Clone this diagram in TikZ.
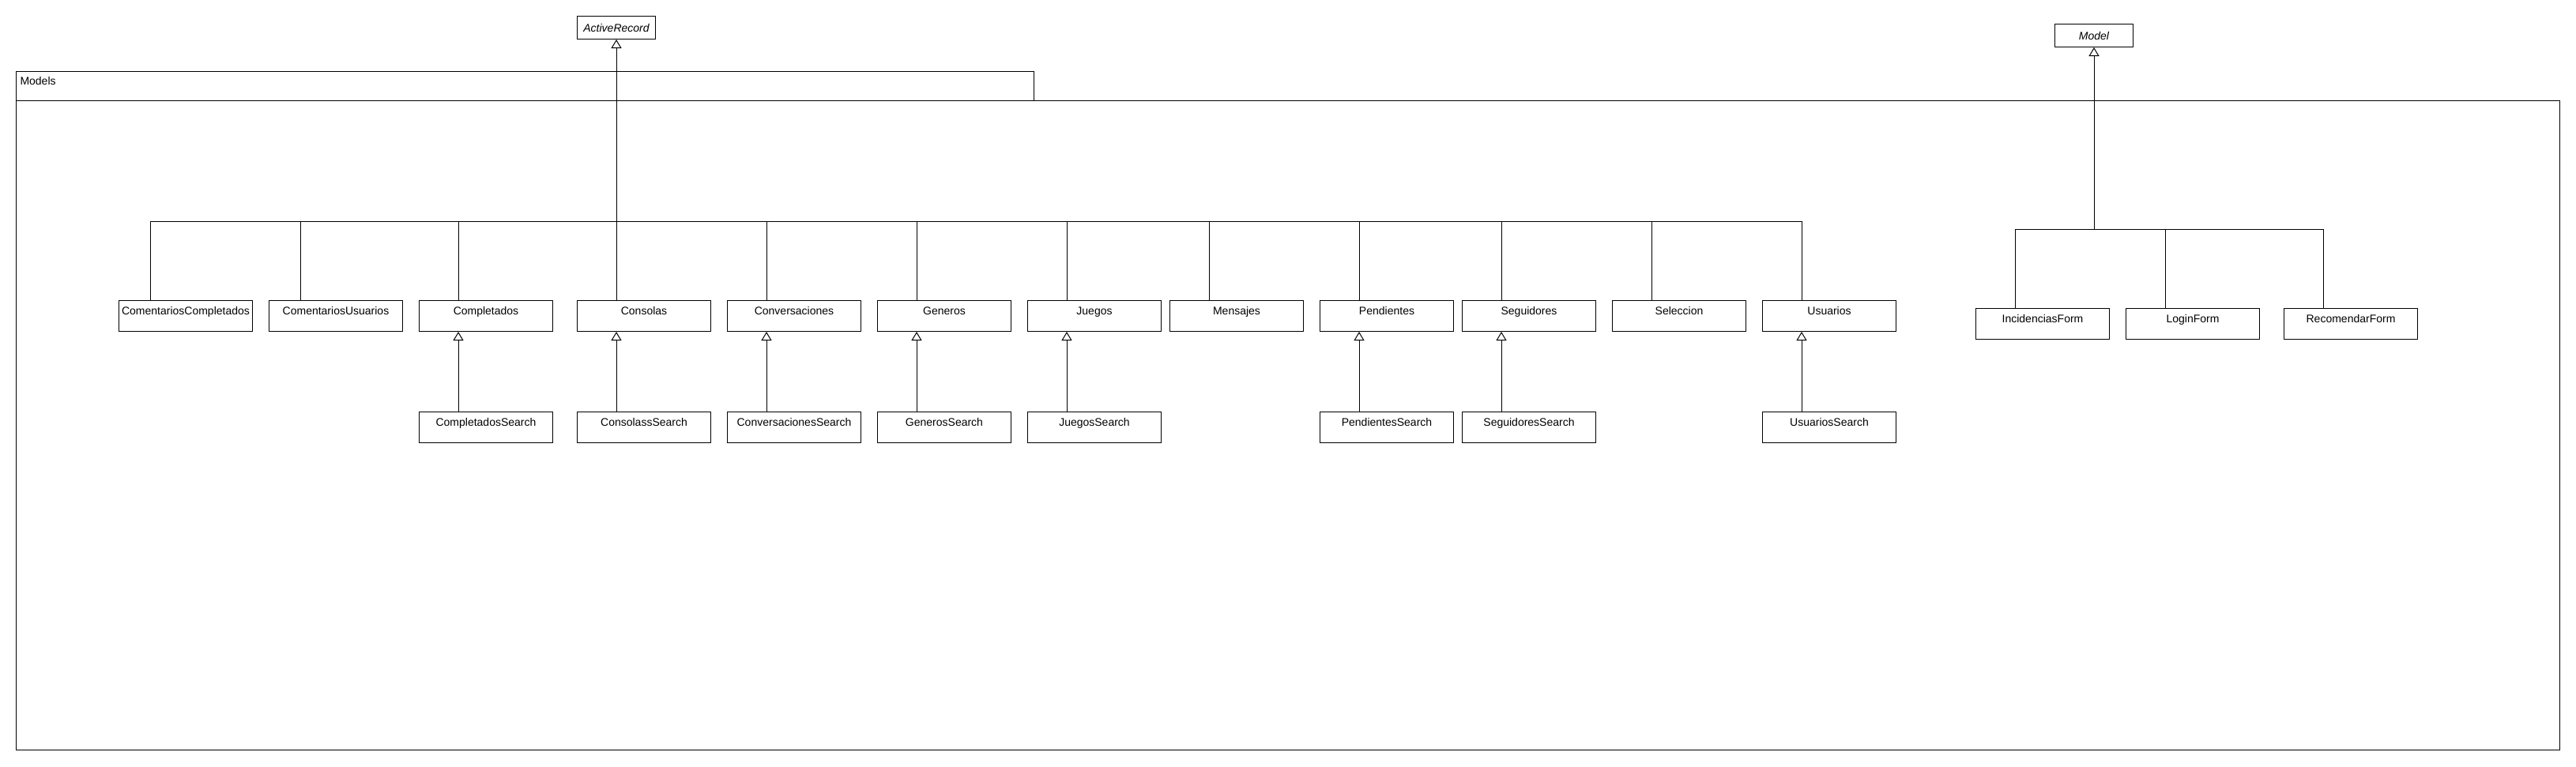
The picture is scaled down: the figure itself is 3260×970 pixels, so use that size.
\documentclass[tikz,border=0pt]{standalone}
\usepackage{fontspec}
\setmainfont{Liberation Sans}
\usepackage{tikz}
\usetikzlibrary{positioning, arrows.meta}
\newcommand{\umlfont}{\fontsize{14pt}{16pt}\selectfont}

\begin{document}
\begin{tikzpicture}[x=1pt, y=-1pt, line width=1pt,
          cls/.style={draw, line width=1pt, font=\umlfont, minimum width=169pt, minimum height=39pt, inner xsep=0pt, inner ysep=4pt, text height=14pt, text depth=17pt, anchor=north west},
          abs/.style={draw, line width=1pt, font=\umlfont\itshape, minimum width=99pt, minimum height=29pt, inner sep=0pt, anchor=north west},
          inh/.style={-{Triangle[open, length=11pt, width=13pt]}, line width=1pt}]
        \useasboundingbox (0,0) rectangle (3260,970);
        % package frame
        \draw (20,90) rectangle (1308,127);
        \draw (20,127) rectangle (3239,949);
        \node[font=\umlfont, inner sep=0pt, anchor=base west] (pkg) at (25,107) {Models};
        % parents
        \node[abs] (ar) at (730,20) {ActiveRecord};
        \node[abs] (mdl) at (2600,30) {Model};
        % ActiveRecord subclasses
        \node[cls] (cc) at (150,380) {ComentariosCompletados};
        \node[cls] (cu) at (340,380) {ComentariosUsuarios};
        \node[cls] (cmp) at (530,380) {Completados};
        \node[cls] (cons) at (730,380) {Consolas};
        \node[cls] (conv) at (920,380) {Conversaciones};
        \node[cls] (gen) at (1110,380) {Generos};
        \node[cls] (jue) at (1300,380) {Juegos};
        \node[cls] (men) at (1480,380) {Mensajes};
        \node[cls] (pen) at (1670,380) {Pendientes};
        \node[cls] (seg) at (1850,380) {Seguidores};
        \node[cls] (sel) at (2040,380) {Seleccion};
        \node[cls] (usu) at (2230,380) {Usuarios};
        % search classes
        \node[cls, below=101pt of cmp] (cmps) {CompletadosSearch};
        \node[cls, below=101pt of cons] (conss) {ConsolassSearch};
        \node[cls, below=101pt of conv] (convs) {ConversacionesSearch};
        \node[cls, below=101pt of gen] (gens) {GenerosSearch};
        \node[cls, below=101pt of jue] (jues) {JuegosSearch};
        \node[cls, below=101pt of pen] (pens) {PendientesSearch};
        \node[cls, below=101pt of seg] (segs) {SeguidoresSearch};
        \node[cls, below=101pt of usu] (usus) {UsuariosSearch};
        % Model subclasses
        \node[cls] (inc) at (2500,390) {IncidenciasForm};
        \node[cls] (login) at (2690,390) {LoginForm};
        \node[cls] (rec) at (2890,390) {RecomendarForm};
        % ActiveRecord tree
        \coordinate (arbus) at (780,280);
        \draw[inh] (arbus) -- (ar.south -| arbus);
        \draw ([xshift=40pt]cc.north west |- arbus) -- ([xshift=50pt]usu.north west |- arbus);
        \draw ([xshift=40pt]cc.north west) -- ++(0,100pt);
        \draw ([xshift=40pt]cu.north west) -- ++(0,100pt);
        \draw ([xshift=50pt]cmp.north west) -- ++(0,100pt);
        \draw ([xshift=50pt]cons.north west) -- ++(0,100pt);
        \draw ([xshift=50pt]conv.north west) -- ++(0,100pt);
        \draw ([xshift=50pt]gen.north west) -- ++(0,100pt);
        \draw ([xshift=50pt]jue.north west) -- ++(0,100pt);
        \draw ([xshift=50pt]men.north west) -- ++(0,100pt);
        \draw ([xshift=50pt]pen.north west) -- ++(0,100pt);
        \draw ([xshift=50pt]seg.north west) -- ++(0,100pt);
        \draw ([xshift=50pt]sel.north west) -- ++(0,100pt);
        \draw ([xshift=50pt]usu.north west) -- ++(0,100pt);
        % search -> parent
        \draw[inh] ([xshift=50pt]cmps.north west) -- ([xshift=50pt]cmp.south west);
        \draw[inh] ([xshift=50pt]conss.north west) -- ([xshift=50pt]cons.south west);
        \draw[inh] ([xshift=50pt]convs.north west) -- ([xshift=50pt]conv.south west);
        \draw[inh] ([xshift=50pt]gens.north west) -- ([xshift=50pt]gen.south west);
        \draw[inh] ([xshift=50pt]jues.north west) -- ([xshift=50pt]jue.south west);
        \draw[inh] ([xshift=50pt]pens.north west) -- ([xshift=50pt]pen.south west);
        \draw[inh] ([xshift=50pt]segs.north west) -- ([xshift=50pt]seg.south west);
        \draw[inh] ([xshift=50pt]usus.north west) -- ([xshift=50pt]usu.south west);
        % Model tree
        \coordinate (mdlbus) at (2650,290);
        \draw[inh] (mdlbus) -- (mdl.south -| mdlbus);
        \draw ([xshift=50pt]inc.north west |- mdlbus) -- ([xshift=50pt]rec.north west |- mdlbus);
        \draw ([xshift=50pt]inc.north west) -- ++(0,100pt);
        \draw ([xshift=50pt]login.north west) -- ++(0,100pt);
        \draw ([xshift=50pt]rec.north west) -- ++(0,100pt);
      \end{tikzpicture}
\end{document}
